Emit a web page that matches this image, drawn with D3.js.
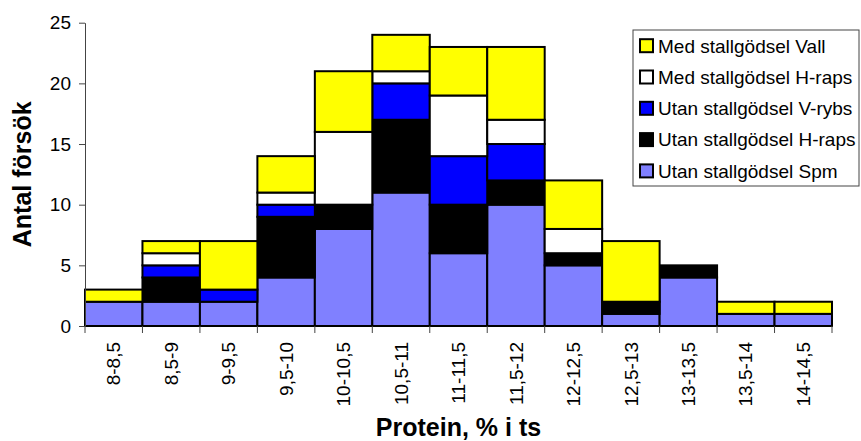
<!DOCTYPE html>
<html>
<head>
<meta charset="utf-8">
<script src="https://cdn.jsdelivr.net/npm/d3@7"></script>
<style>
  html, body { margin: 0; padding: 0; background: #fff; }
  svg { display: block; }
  text { font-family: "Liberation Sans", Arial, sans-serif; fill: #000; }
</style>
</head>
<body>
<svg id="chart" width="861" height="441"></svg>
<script>
const categories = ["8-8,5","8,5-9","9-9,5","9,5-10","10-10,5","10,5-11","11-11,5","11,5-12","12-12,5","12,5-13","13-13,5","13,5-14","14-14,5"];
const seriesNames = ["Utan stallgödsel Spm","Utan stallgödsel H-raps","Utan stallgödsel V-rybs","Med stallgödsel H-raps","Med stallgödsel Vall"];
const spm      = [2, 2, 2, 4, 8, 11, 6, 10, 5, 1, 4, 1, 1];
const utanHraps= [0, 2, 0, 5, 2, 6, 4, 2, 1, 1, 1, 0, 0];
const vRybs    = [0, 1, 1, 1, 0, 3, 4, 3, 0, 0, 0, 0, 0];
const medHraps = [0, 1, 0, 1, 6, 1, 5, 2, 2, 0, 0, 0, 0];
const vall     = [1, 1, 4, 3, 5, 3, 4, 6, 4, 5, 0, 1, 1];
const yTicks   = [0, 5, 10, 15, 20, 25];
const colors   = ["#8080FF", "#000000", "#0000FF", "#FFFFFF", "#FFFF00"];

(function () {
const seriesValues = [spm, utanHraps, vRybs, medHraps, vall];
const rows = categories.map((c, i) => {
  const r = { cat: c };
  seriesNames.forEach((s, k) => r[s] = seriesValues[k][i]);
  return r;
});

const svg = d3.select("#chart");
const mLeft = 85, mRight = 832, mTop = 22.7, mBottom = 326;

const x = d3.scaleBand().domain(categories).range([mLeft, mRight]).padding(0);
const y = d3.scaleLinear().domain([0, 25]).range([mBottom, mTop]);

const stack = d3.stack().keys(seriesNames)(rows);

// bars
const g = svg.append("g");
stack.forEach((layer, k) => {
  g.selectAll(null)
    .data(layer.filter(d => d[1] - d[0] > 0))
    .enter().append("rect")
    .attr("x", d => x(d.data.cat))
    .attr("width", x.bandwidth())
    .attr("y", d => y(d[1]))
    .attr("height", d => y(d[0]) - y(d[1]))
    .attr("fill", colors[k])
    .attr("stroke", "#000")
    .attr("stroke-width", 2);
});

// y axis
const yAxis = d3.axisLeft(y).tickValues(yTicks).tickSize(6).tickPadding(8).tickSizeOuter(0);
const ya = svg.append("g").attr("transform", `translate(${mLeft},0)`).call(yAxis);
ya.select(".domain").attr("stroke", "#444").attr("stroke-width", 1);
ya.selectAll(".tick line").attr("stroke", "#444");
ya.selectAll(".tick text").attr("font-size", 19).attr("font-family", "Liberation Sans, Arial, sans-serif").attr("fill", "#000");

// x axis ticks at band boundaries
const bounds = categories.map(c => x(c)).concat([mRight]);
svg.append("g").selectAll("line").data(bounds).enter().append("line")
  .attr("x1", d => d).attr("x2", d => d)
  .attr("y1", mBottom).attr("y2", mBottom + 7)
  .attr("stroke", "#444").attr("stroke-width", 1);

// x labels
svg.append("g").selectAll("text").data(categories).enter().append("text")
  .attr("transform", d => `translate(${x(d) + x.bandwidth() / 2},342) rotate(-90)`)
  .attr("text-anchor", "end")
  .attr("dy", "0.35em")
  .attr("font-size", 19)
  .text(d => d);

// axis titles
svg.append("text")
  .attr("x", (mLeft + mRight) / 2).attr("y", 436)
  .attr("text-anchor", "middle").attr("font-size", 25).attr("font-weight", "bold")
  .text("Protein, % i ts");
svg.append("text")
  .attr("transform", `translate(31,${(mTop + mBottom) / 2}) rotate(-90)`)
  .attr("text-anchor", "middle").attr("font-size", 25).attr("font-weight", "bold")
  .text("Antal försök");

// legend
const lg = svg.append("g");
lg.append("rect").attr("x", 633).attr("y", 30).attr("width", 226).attr("height", 156)
  .attr("fill", "#fff").attr("stroke", "#444").attr("stroke-width", 1);
const legendOrder = [4, 3, 2, 1, 0];
legendOrder.forEach((k, i) => {
  const cy = 45.7 + i * 31.3;
  lg.append("rect").attr("x", 640).attr("y", cy - 6.5).attr("width", 13).attr("height", 13)
    .attr("fill", colors[k]).attr("stroke", "#000").attr("stroke-width", 2);
  lg.append("text").attr("x", 658).attr("y", cy + 6.8).attr("font-size", 19).text(seriesNames[k]);
});
})();
</script>
</body>
</html>
